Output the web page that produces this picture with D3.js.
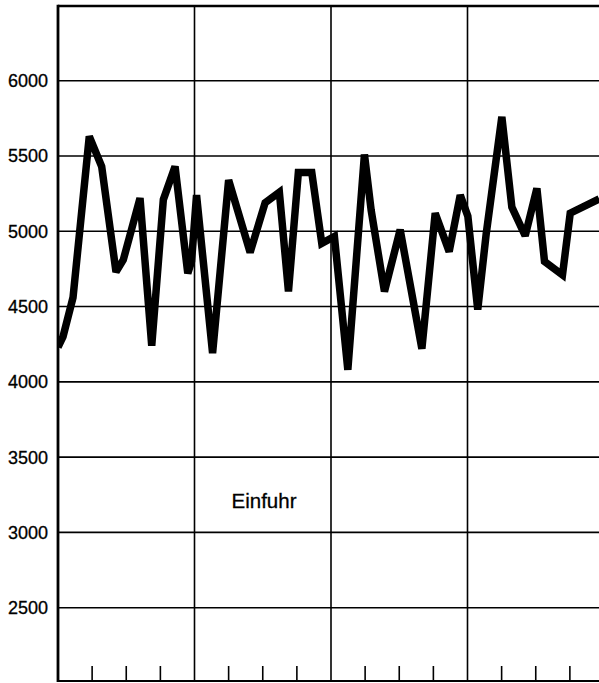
<!DOCTYPE html>
<html>
<head>
<meta charset="utf-8">
<script src="https://cdn.jsdelivr.net/npm/d3@7"></script>
<style>
  html, body { margin: 0; padding: 0; background: #fff; }
  svg { display: block; }
</style>
</head>
<body>
<svg id="chart" width="599" height="683"></svg>
<script>
// ---- data ----
// position along the time axis, in months from the left edge (12 months per year panel)
const monthPos = [0, 0.44, 1.32, 2.75, 3.84, 5.10, 5.74, 7.21, 8.24, 9.26, 10.29, 11.41, 11.74,
  12.18, 13.59, 15.00, 16.89, 18.21, 19.46, 20.26, 21.13, 22.31, 23.19,
  24.30, 25.48, 26.94, 27.53, 28.70, 30.08, 31.99, 33.16, 34.39, 35.36,
  36.03, 36.90, 37.64, 39.02, 39.90, 41.07, 42.10, 42.77, 44.35, 45.03, 47.58];
// Einfuhr values
const einfuhr = [4230, 4300, 4560, 5630, 5430, 4730, 4810, 5220, 4240, 5210, 5430, 4720, 4800,
  5240, 4190, 5340, 4860, 5190, 5260, 4600, 5390, 5390, 4920,
  4965, 4080, 5510, 5140, 4600, 5010, 4220, 5120, 4865, 5240,
  5100, 4480, 4980, 5760, 5160, 4970, 5285, 4800, 4710, 5120, 5215];
const yTicks = [2500, 3000, 3500, 4000, 4500, 5000, 5500, 6000];
const yearLines = [12, 24, 36];
const quarterTicks = [3, 6, 9, 15, 18, 21, 27, 30, 33, 39, 42, 45];
const seriesLabel = "Einfuhr";

// ---- layout ----
const svg = d3.select("#chart");
const left = 58, bottom = 681;
const x = d3.scaleLinear().domain([0, 48]).range([left, left + 48 * 11.375]);
const y = d3.scaleLinear().domain([2000, 6500]).range([683, 5.4]);

// horizontal grid lines
svg.append("g").selectAll("line").data(yTicks).join("line")
  .attr("x1", left).attr("x2", 599)
  .attr("y1", d => y(d)).attr("y2", d => y(d))
  .attr("stroke", "#000").attr("stroke-width", 1.6);

// year separator lines
svg.append("g").selectAll("line").data(yearLines).join("line")
  .attr("x1", d => x(d)).attr("x2", d => x(d))
  .attr("y1", y(6500)).attr("y2", bottom)
  .attr("stroke", "#000").attr("stroke-width", 1.6);

// quarter ticks on the bottom axis
svg.append("g").selectAll("line").data(quarterTicks).join("line")
  .attr("x1", d => x(d)).attr("x2", d => x(d))
  .attr("y1", bottom - 15).attr("y2", bottom)
  .attr("stroke", "#000").attr("stroke-width", 1.6);

// frame: top, left, bottom
svg.append("line").attr("x1", left).attr("x2", 599).attr("y1", y(6500) + 0.6).attr("y2", y(6500) + 0.6)
  .attr("stroke", "#000").attr("stroke-width", 2.6);
svg.append("line").attr("x1", left).attr("x2", left).attr("y1", y(6500) - 0.7).attr("y2", bottom + 1)
  .attr("stroke", "#000").attr("stroke-width", 2.8);
svg.append("line").attr("x1", left).attr("x2", 599).attr("y1", bottom).attr("y2", bottom)
  .attr("stroke", "#000").attr("stroke-width", 2.2);

// y-axis labels
svg.append("g").selectAll("text").data(yTicks).join("text")
  .attr("x", 48).attr("y", d => y(d)).attr("dy", "0.36em")
  .attr("text-anchor", "end")
  .attr("font-family", "'Liberation Sans', Arial, sans-serif")
  .attr("font-size", 18)
  .attr("fill", "#000")
  .attr("stroke", "#000").attr("stroke-width", 0.3)
  .text(d => d);

// data line
const pts = monthPos.map((m, i) => [m, einfuhr[i]]);
svg.append("defs").append("clipPath").attr("id", "clip")
  .append("rect").attr("x", left).attr("y", 0).attr("width", 599 - left).attr("height", 683);
svg.append("path")
  .datum(pts)
  .attr("clip-path", "url(#clip)")
  .attr("fill", "none")
  .attr("stroke", "#000")
  .attr("stroke-width", 7.5)
  .attr("stroke-linejoin", "miter")
  .attr("stroke-miterlimit", 3)
  .attr("d", d3.line().x(d => x(d[0])).y(d => y(d[1])));

// series label
svg.append("text")
  .attr("x", 264).attr("y", 508)
  .attr("text-anchor", "middle")
  .attr("font-family", "'Liberation Sans', Arial, sans-serif")
  .attr("font-size", 20.5)
  .attr("fill", "#000")
  .attr("stroke", "#000").attr("stroke-width", 0.3)
  .text(seriesLabel);
</script>
</body>
</html>
